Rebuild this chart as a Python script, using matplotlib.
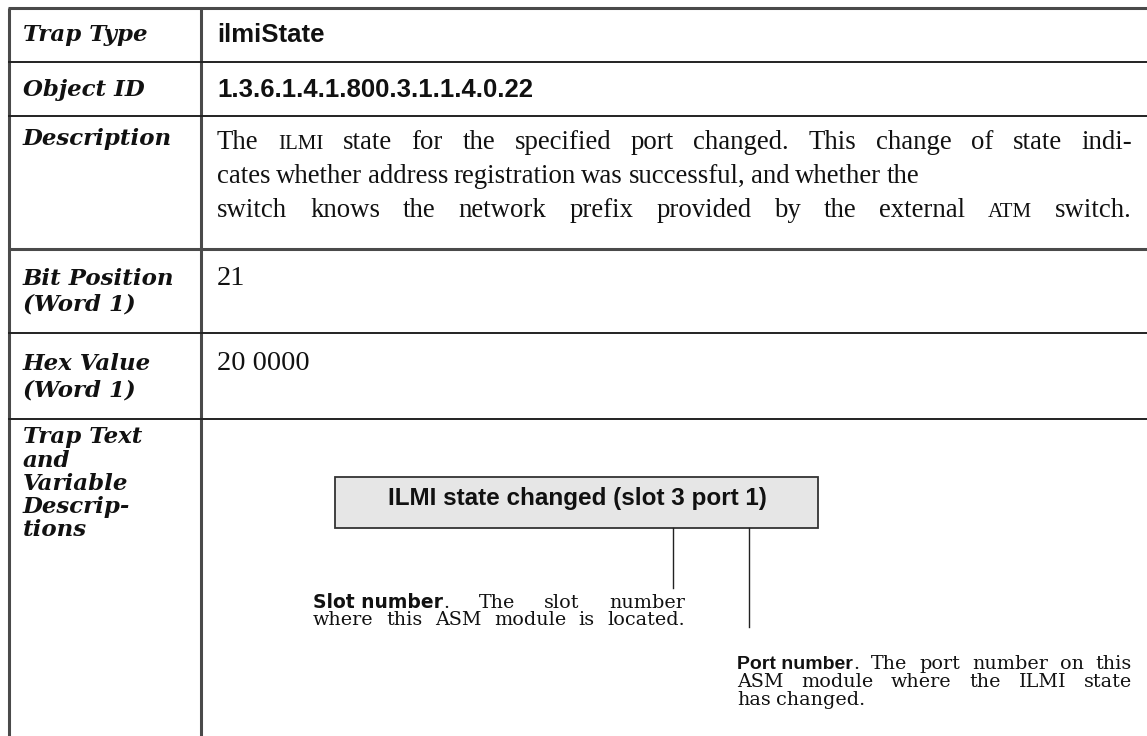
import matplotlib
matplotlib.use("Agg")
import matplotlib.pyplot as plt
from matplotlib.patches import Rectangle

# table content
row_labels = [
    ["Trap Type"],
    ["Object ID"],
    ["Description"],
    ["Bit Position", "(Word 1)"],
    ["Hex Value", "(Word 1)"],
    ["Trap Text", "and", "Variable", "Descrip-", "tions"],
]
trap_type = "ilmiState"
object_id = "1.3.6.1.4.1.800.3.1.1.4.0.22"
# {..} marks small caps, [..] marks bold sans
description = [
    "The {ILMI} state for the specified port changed. This change of state indi-",
    "cates whether address registration was successful, and whether the",
    "switch knows the network prefix provided by the external {ATM} switch.",
]
desc_justified = [True, False, True]
bit_position = "21"
hex_value = "20 0000"
trap_text = "ILMI state changed (slot 3 port 1)"
slot_note = ["[Slot number]. The slot number", "where this ASM module is located."]
slot_just = [True, True]
port_note = ["[Port number]. The port number on this", "ASM module where the ILMI state", "has changed."]
port_just = [True, True, False]

W, H = 1147, 736
fig = plt.figure(figsize=(W / 100, H / 100), dpi=100)
ax = fig.add_axes([0, 0, 1, 1])
ax.set_xlim(0, W)
ax.set_ylim(H, 0)
ax.axis("off")
renderer = fig.canvas.get_renderer()

line_col = "#4a4a4a"
x_left, x_div = 9, 201
row_y = [8, 62, 116, 249, 333, 419]

ax.plot([x_left, x_left], [row_y[0], H], color=line_col, lw=2.2, solid_capstyle="butt")
ax.plot([x_div, x_div], [row_y[0], H], color=line_col, lw=2.2, solid_capstyle="butt")
for i, y in enumerate(row_y):
    ax.plot([x_left - 1, W], [y, y], color=line_col if i in (0, 3) else "#222222",
            lw=2.2 if i in (0, 3) else 1.4, solid_capstyle="butt")

label_style = dict(family="DejaVu Serif", weight="bold", style="italic", size=16.5, color="#111111")
label_y = [[35], [90], [139], [279, 304], [364, 390], [437, 461, 484, 507, 530]]
for lines, ys in zip(row_labels, label_y):
    for txt, y in zip(lines, ys):
        ax.text(23, y, txt, va="center", ha="left", **label_style)

sans_b = dict(family="Liberation Sans", weight="bold", size=18.5, color="#111111")
ax.text(217, 35, trap_type, va="center", ha="left", **sans_b)
ax.text(217, 90, object_id, va="center", ha="left", **sans_b)

body = dict(family="Liberation Serif", size=19.3, color="#111111")
body_sc = dict(family="Liberation Serif", size=15, color="#111111")
digits = dict(family="Liberation Serif", size=20.5, color="#111111")
ax.text(217, 285, bit_position, va="baseline", ha="left", **digits)
ax.text(217, 370, hex_value, va="baseline", ha="left", **digits)


def word_runs(word, base, small, bold):
    # split a word into styled runs
    runs = []
    buf = ""
    mode = None
    for ch in word:
        if ch in "{[":
            if buf:
                runs.append((buf, base))
            buf, mode = "", ch
        elif ch in "}]":
            runs.append((buf, small if mode == "{" else bold))
            buf, mode = "", None
        else:
            buf += ch
    if buf:
        runs.append((buf, base))
    return runs


def split_words(line):
    words, cur, depth = [], "", 0
    for ch in line:
        if ch in "{[":
            depth += 1
        elif ch in "}]":
            depth -= 1
        if ch == " " and depth == 0:
            words.append(cur)
            cur = ""
        else:
            cur += ch
    words.append(cur)
    return words


def draw_line(x0, y, line, base, small, bold, width=None, space=5.0):
    words = split_words(line)
    items = []
    for w in words:
        arts = []
        for txt, st in word_runs(w, base, small, bold):
            t = ax.text(0, y, txt, va="baseline", ha="left", **st)
            arts.append((t, t.get_window_extent(renderer).width))
        items.append(arts)
    wsum = sum(sum(a[1] for a in arts) for arts in items)
    gap = space
    if width is not None and len(items) > 1:
        gap = (width - wsum) / (len(items) - 1)
    x = x0
    for arts in items:
        for t, wd in arts:
            t.set_x(x)
            x += wd
        x += gap


desc_base_y = [149, 183, 217]
for line, just, y in zip(description, desc_justified, desc_base_y):
    draw_line(217, y, line, body, body_sc, body, width=915 if just else None, space=5.5)

# trap text box
ax.add_patch(Rectangle((335, 477), 483, 51, facecolor="#e6e6e6", edgecolor="#333333", lw=1.3))
ax.text(577, 498, trap_text, va="center", ha="center",
        family="Liberation Sans", weight="bold", size=17.5, color="#111111")
ax.plot([673, 673], [528, 588], color="#222222", lw=1)
ax.plot([749, 749], [528, 627], color="#222222", lw=1)

note = dict(family="DejaVu Serif", size=13.8, color="#111111")
note_b = dict(family="DejaVu Sans", weight="bold", size=13.5, color="#111111")
note_b2 = dict(family="Liberation Sans", weight="bold", size=14, color="#111111")
for line, just, y in zip(slot_note, slot_just, [608, 625]):
    draw_line(313, y, line, note, note, note_b, width=372 if just else None, space=5)
for line, just, y in zip(port_note, port_just, [669, 687, 705]):
    draw_line(737, y, line, note, note, note_b2, width=395 if just else None, space=5)

fig.savefig("out.png", dpi=100, facecolor="white")
